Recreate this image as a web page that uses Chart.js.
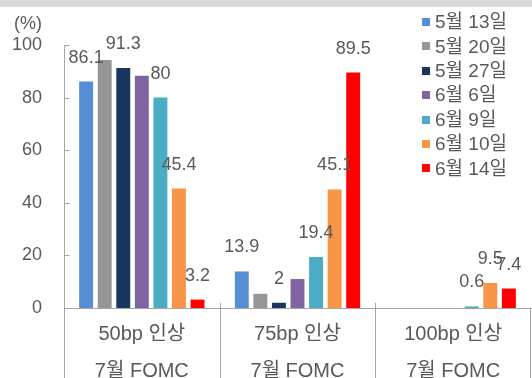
<!DOCTYPE html>
<html><head><meta charset="utf-8">
<script src="https://cdn.jsdelivr.net/npm/chart.js@4/dist/chart.umd.min.js"></script>
<style>html,body{margin:0;padding:0;background:#fff;}canvas{display:block;}</style>
</head><body>
<canvas id="c" width="532" height="378"></canvas>
<script>
const categories = [['50bp 인상', '7월 FOMC'], ['75bp 인상', '7월 FOMC'], ['100bp 인상', '7월 FOMC']];
const seriesLabels = ['5월 13일', '5월 20일', '5월 27일', '6월 6일', '6월 9일', '6월 10일', '6월 14일'];
const s0513 = [86.1, 13.9, null];
const s0520 = [94.3, 5.4, null];
const s0527 = [91.3, 2, null];
const s0606 = [88.3, 11.0, null];
const s0609 = [80, 19.4, 0.6];
const s0610 = [45.4, 45.1, 9.5];
const s0614 = [3.2, 89.5, 7.4];
const seriesValues = [s0513, s0520, s0527, s0606, s0609, s0610, s0614];
const labelled = [true, false, true, false, true, true, true];
const colors = ['#558ed5', '#969696', '#17375e', '#8064a2', '#4bacc6', '#f79646', '#ff0000'];
const yTicks = [0, 20, 40, 60, 80, 100];

const FONT = "'Liberation Sans', 'Noto Sans CJK KR', sans-serif";
const TXT = '#595959';
const AX = '#a6a6a6';

const extras = {
  id: 'extras',
  beforeDraw(chart) {
    const ctx = chart.ctx;
    ctx.save();
    ctx.fillStyle = '#d9d9d9';
    ctx.fillRect(0, 0, chart.width, 7);
    ctx.restore();
  },
  afterDraw(chart) {
    const ctx = chart.ctx;
    const xs = chart.scales.x, ys = chart.scales.y;
    const ca = chart.chartArea;
    ctx.save();
    // (%) unit
    ctx.fillStyle = TXT;
    ctx.font = '18px ' + FONT;
    ctx.textAlign = 'right';
    ctx.textBaseline = 'middle';
    ctx.fillText('(%)', 42, 24);
    // axis line & separators
    ctx.strokeStyle = AX;
    ctx.lineWidth = 1;
    ctx.beginPath();
    const lx = Math.round(ca.left) + 0.5;
    ctx.moveTo(lx, ys.getPixelForValue(100));
    ctx.lineTo(lx, chart.height);
    // inward ticks
    yTicks.forEach(v => {
      const y = Math.round(ys.getPixelForValue(v)) + 0.5;
      ctx.moveTo(lx, y); ctx.lineTo(lx + 5, y);
    });
    const bottomY = ys.getPixelForValue(0);
    for (let i = 0; i < categories.length; i++) {
      let x;
      if (i < categories.length - 1) {
        x = (xs.getPixelForValue(i) + xs.getPixelForValue(i + 1)) / 2;
        x = Math.round(x) + 0.5;
        ctx.moveTo(x, bottomY - 5); ctx.lineTo(x, chart.height);
      } else {
        x = Math.round(ca.right) - 0.5;
        ctx.moveTo(x, bottomY); ctx.lineTo(x, chart.height);
      }
    }
    ctx.stroke();
    // data labels
    ctx.font = '18px ' + FONT;
    ctx.fillStyle = TXT;
    ctx.textAlign = 'center';
    ctx.textBaseline = 'middle';
    chart.data.datasets.forEach((ds, di) => {
      if (!labelled[di]) return;
      const meta = chart.getDatasetMeta(di);
      meta.data.forEach((bar, i) => {
        const v = ds.data[i];
        if (v === null || v === undefined) return;
        ctx.fillText(String(v), bar.x, bar.y - 24);
      });
    });
    // legend
    ctx.textAlign = 'left';
    ctx.font = '19px ' + FONT;
    chart.data.datasets.forEach((ds, di) => {
      const y = 22 + di * 24.4;
      ctx.fillStyle = ds.backgroundColor;
      ctx.fillRect(422, Math.round(y - 4), 8, 8);
      ctx.fillStyle = TXT;
      ctx.fillText(ds.label, 435, y + 1);
    });
    ctx.restore();
  }
};

new Chart(document.getElementById('c'), {
  type: 'bar',
  data: {
    labels: categories,
    datasets: seriesLabels.map((l, i) => ({
      label: l,
      data: seriesValues[i],
      backgroundColor: colors[i],
      borderWidth: 0,
      categoryPercentage: 0.835,
      barPercentage: 0.75
    }))
  },
  options: {
    responsive: false,
    animation: false,
    layout: { padding: { top: 45, right: 1, left: 0, bottom: 0 } },
    plugins: { legend: { display: false }, tooltip: { enabled: false } },
    scales: {
      x: {
        grid: { display: false, drawTicks: false },
        border: { display: true, color: AX, width: 1 },
        ticks: { color: TXT, font: { family: FONT, size: 20, lineHeight: '37px' }, padding: 8, maxRotation: 0 },
        afterFit: s => { s.height = 70; }
      },
      y: {
        min: 0, max: 100,
        afterBuildTicks: s => { s.ticks = yTicks.map(v => ({ value: v })); },
        grid: { display: false, drawTicks: false },
        border: { display: false },
        ticks: { color: TXT, font: { family: FONT, size: 18 }, padding: 22 },
        afterFit: s => { s.width = 64; }
      }
    }
  },
  plugins: [extras]
});
</script>
</body></html>
